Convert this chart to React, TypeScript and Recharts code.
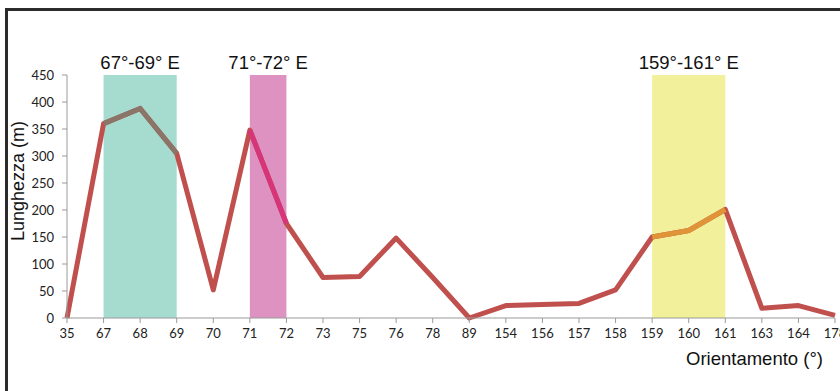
import React from "react";
import { LineChart, Line, XAxis, YAxis, ReferenceArea } from "recharts";

const categories = ["35","67","68","69","70","71","72","73","75","76","78","89","154","156","157","158","159","160","161","163","164","178"];
const lengths = [0,360,388,305,52,348,175,75,77,148,75,0,23,25,27,52,150,162,201,18,23,5];
const yTicks = [0,50,100,150,200,250,300,350,400,450];

const bands = [
  { from: "67", to: "69", label: "67°-69° E", fill: "#a5dccf", line: "#8b7568", key: "b1" },
  { from: "71", to: "72", label: "71°-72° E", fill: "#de92c2", line: "#d6357a", key: "b2" },
  { from: "159", to: "161", label: "159°-161° E", fill: "#f2f09a", line: "#e09438", key: "b3" },
];

const data = categories.map((c, i) => {
  const row: any = { cat: c, len: lengths[i] };
  bands.forEach((b) => {
    const a = categories.indexOf(b.from);
    const z = categories.indexOf(b.to);
    row[b.key] = i >= a && i <= z ? lengths[i] : null;
  });
  return row;
});

const tickFont = { fontFamily: "Lato", fontSize: 13, fill: "#222" };
const titleFont = "Liberation Sans";

const XTitle = () => (
  <text x={823} y={365} textAnchor="end" fontFamily={titleFont} fontSize={18.5} fill="#111">Orientamento (°)</text>
);
const YTitle = () => (
  <text x={0} y={0} transform="translate(24, 181) rotate(-90)" textAnchor="middle" fontFamily={titleFont} fontSize={18} fill="#111">Lunghezza (m)</text>
);

export default function App() {
  return (
    <div style={{ position: "absolute", left: 0, top: 0, width: 840, height: 391, overflow: "hidden", background: "#fff" }}>
      <div style={{ position: "absolute", left: 5, top: 8, width: 900, height: 500, border: "3px solid #2b2b2b", boxSizing: "border-box" }} />
      <div style={{ position: "absolute", left: 0, top: 0 }}>
        <LineChart width={840} height={391} data={data} margin={{ top: 75, right: 5, bottom: 43, left: 0 }}>
          {bands.map((b) => (
            <ReferenceArea
              key={b.key}
              x1={b.from}
              x2={b.to}
              y1={0}
              y2={450}
              fill={b.fill}
              fillOpacity={1}
              stroke="none"
              ifOverflow="extendDomain"
              label={{ value: b.label, position: "top", offset: 6, fill: "#111", fontSize: 18.5, fontFamily: titleFont }}
            />
          ))}
          <XAxis
            dataKey="cat"
            interval={0}
            tick={tickFont}
            tickSize={5}
            tickMargin={6}
            axisLine={{ stroke: "#9a9a9a" }}
            tickLine={{ stroke: "#9a9a9a" }}
            height={30}
            label={{ content: XTitle }}
          />
          <YAxis
            domain={[0, 450]}
            ticks={yTicks}
            interval={0}
            width={67}
            tick={tickFont}
            tickSize={5}
            tickMargin={8}
            axisLine={{ stroke: "#9a9a9a" }}
            tickLine={{ stroke: "#9a9a9a" }}
            label={{ content: YTitle }}
          />
          <Line type="linear" dataKey="len" stroke="#c0504d" strokeWidth={5} dot={false} activeDot={false} isAnimationActive={false} strokeLinejoin="round" />
          {bands.map((b) => (
            <Line key={b.key} type="linear" dataKey={b.key} stroke={b.line} strokeWidth={5} dot={false} activeDot={false} isAnimationActive={false} connectNulls={false} />
          ))}
        </LineChart>
      </div>
    </div>
  );
}
